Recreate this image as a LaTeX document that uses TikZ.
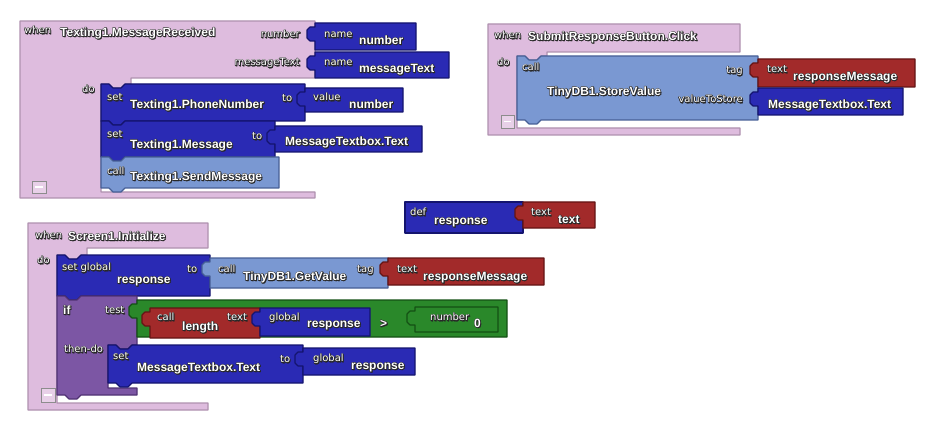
\documentclass[tikz,border=0pt]{standalone}
\usepackage{fontspec}
\setmainfont{Liberation Sans}
\newfontfamily\lblfont{DejaVu Sans}
\newfontfamily\nmshdfont{Liberation Sans Bold}[FakeBold=1.5]
\newfontfamily\lblshdfont{DejaVu Sans}[FakeBold=1.5]
\usepackage{xcolor}
\usepackage{tikz}

\definecolor{evtfill}{RGB}{222,188,222}
\definecolor{evtdraw}{RGB}{175,145,175}
\definecolor{setfill}{RGB}{42,42,180}
\definecolor{setdraw}{RGB}{20,20,110}
\definecolor{callfill}{RGB}{122,152,210}
\definecolor{calldraw}{RGB}{70,95,150}
\definecolor{txtfill}{RGB}{162,42,42}
\definecolor{txtdraw}{RGB}{100,20,20}
\definecolor{mathfill}{RGB}{42,136,42}
\definecolor{mathdraw}{RGB}{20,80,20}
\definecolor{ctlfill}{RGB}{124,86,164}
\definecolor{ctldraw}{RGB}{80,50,115}
\definecolor{shadowc}{RGB}{40,40,40}

% statement block: style, x1, y1, x2, y2 (notch on top, nub below)
\newcommand{\stmtblk}[5]{%
  \draw[#1] (#2,#3) -- ++(8,0) -- ++(4,4) -- ++(8,0) -- ++(4,-4) -- (#4,#3) -- (#4,#5)
    -- (#2+24,#5) -- ++(-4,4) -- ++(-8,0) -- ++(-4,-4) -- (#2,#5) -- cycle;}
% value block: style, x1, y1, x2, y2 (plug on the left)
\newcommand{\valblk}[5]{%
  \draw[#1] (#2,#3) -- (#4,#3) -- (#4,#5) -- (#2,#5) -- (#2,#3+18) -- ++(-5,0)
    -- ++(-3,-3) -- ++(0,-8) -- ++(3,-3) -- (#2,#3+4) -- cycle;}
% white text with a dark outline: shadow copies in font #1
\newcommand{\shdcopy}[4]{\makebox[0pt][l]{\kern#2pt\raisebox{#3pt}{#1\textcolor{shadowc}{#4}}}}
\newcommand{\outl}[2]{\shdcopy{#1}{-0.5}{0}{#2}\shdcopy{#1}{0.5}{0}{#2}\shdcopy{#1}{0}{0.5}{#2}%
  \shdcopy{#1}{0}{-0.5}{#2}\shdcopy{#1}{0.8}{-0.8}{#2}#2}
\newcommand{\nshd}[1]{\outl{\nmshdfont}{#1}}
\newcommand{\lshd}[1]{\outl{\lblshdfont}{#1}}

\begin{document}
\begin{tikzpicture}[
  x=1pt,
  y=-1pt,
  evtblk/.style={fill=evtfill, draw=evtdraw, line width=1.2pt, line join=round},
  setblk/.style={fill=setfill, draw=setdraw, line width=1.2pt, line join=round},
  callblk/.style={fill=callfill, draw=calldraw, line width=1.2pt, line join=round},
  txtblk/.style={fill=txtfill, draw=txtdraw, line width=1.2pt, line join=round},
  mathblk/.style={fill=mathfill, draw=mathdraw, line width=1.2pt, line join=round},
  ctlblk/.style={fill=ctlfill, draw=ctldraw, line width=1.2pt, line join=round},
  colbox/.style={fill=evtfill!70!white, draw=black!45, line width=0.8pt},
  nm/.style={font=\bfseries\fontsize{12}{14}\selectfont, text=white, inner sep=0pt,
    text height=9pt, text depth=2.5pt, anchor=west},
  lbl/.style={font=\lblfont\fontsize{10}{11}\selectfont, text=white, inner sep=0pt,
    text height=7pt, text depth=2pt, anchor=west}
]
\useasboundingbox (0,0) rectangle (935,425);

% ---- when Texting1.MessageReceived
\draw[evtblk] (20,21) -- (315,21) -- (315,78) -- (131,78) -- (131,84) -- (125,84)
  -- (121,88) -- (113,88) -- (109,84) -- (101,84) -- (101,192) -- (315,192)
  -- (315,198) -- (20,198) -- cycle;
\valblk{setblk}{315}{23}{416}{50}
\valblk{setblk}{315}{52}{449}{78}
\stmtblk{setblk}{101}{84}{305}{121}
\valblk{setblk}{305}{88}{403}{112}
\stmtblk{setblk}{101}{121}{275}{157}
\valblk{setblk}{275}{126}{422}{152}
\stmtblk{callblk}{101}{157}{279}{188}
\draw[colbox] (32,181) rectangle (46,193);
\draw[white, line width=1.2pt] (35,187) -- (43,187);

\node[lbl] (rcvwhen) at (24,31) {\lshd{when}};
\node[nm] (rcvevent) at (60,33) {\nshd{Texting1.MessageReceived}};
\node[lbl, anchor=east] (rcvnum) at (300,35) {\lshd{number}};
\node[lbl, anchor=east] (rcvmsg) at (300,63) {\lshd{messageText}};
\node[lbl] (nameonekey) at (324,35) {\lshd{name}};
\node[nm] (nameone) at (359,41) {\nshd{number}};
\node[lbl] (nametwokey) at (324,63) {\lshd{name}};
\node[nm] (nametwo) at (359,69) {\nshd{messageText}};
\node[lbl] (rcvdo) at (82,90) {\lshd{do}};
\node[lbl] (setphonekey) at (107,98) {\lshd{set}};
\node[nm] (setphone) at (130,105) {\nshd{Texting1.PhoneNumber}};
\node[lbl] (setphoneto) at (282,99) {\lshd{to}};
\node[lbl] (valnumkey) at (313,98) {\lshd{value}};
\node[nm] (valnum) at (349,105) {\nshd{number}};
\node[lbl] (setmsgkey) at (107,135) {\lshd{set}};
\node[nm] (setmsg) at (130,145) {\nshd{Texting1.Message}};
\node[lbl] (setmsgto) at (252,137) {\lshd{to}};
\node[nm] (msgboxone) at (285,142) {\nshd{MessageTextbox.Text}};
\node[lbl] (sendkey) at (107,172) {\lshd{call}};
\node[nm] (send) at (130,177) {\nshd{Texting1.SendMessage}};

% ---- when SubmitResponseButton.Click
\draw[evtblk] (488,24) -- (740,24) -- (740,52) -- (547,52) -- (547,56) -- (541,56)
  -- (537,60) -- (529,60) -- (525,56) -- (517,56) -- (517,128) -- (740,128)
  -- (740,135) -- (488,135) -- cycle;
\stmtblk{callblk}{517}{56}{758}{120}
\valblk{txtblk}{758}{59}{915}{87}
\valblk{setblk}{758}{88}{903}{115}
\draw[colbox] (501,115) rectangle (514,128);
\draw[white, line width=1.2pt] (504,121.5) -- (511,121.5);

\node[lbl] (clkwhen) at (494,36) {\lshd{when}};
\node[nm] (clkevent) at (528,37) {\nshd{SubmitResponseButton.Click}};
\node[lbl] (clkdo) at (497,63) {\lshd{do}};
\node[lbl] (storekey) at (522,68) {\lshd{call}};
\node[nm] (store) at (547,92) {\nshd{TinyDB1.StoreValue}};
\node[lbl, anchor=east] (storetag) at (743,71) {\lshd{tag}};
\node[lbl, anchor=east] (storeval) at (743,100) {\lshd{valueToStore}};
\node[lbl] (tagtxtkey) at (767,70) {\lshd{text}};
\node[nm] (tagtxt) at (793,77) {\nshd{responseMessage}};
\node[nm] (msgboxtwo) at (768,105) {\nshd{MessageTextbox.Text}};

% ---- def response
\draw[setblk] (405,202) rectangle (523,233);
\valblk{txtblk}{523}{202}{595}{228}
\node[lbl] (defkey) at (410,213) {\lshd{def}};
\node[nm] (defvar) at (434,221) {\nshd{response}};
\node[lbl] (deftxtkey) at (531,213) {\lshd{text}};
\node[nm] (deftxt) at (558,220) {\nshd{text}};

% ---- when Screen1.Initialize
\draw[evtblk] (28,223) -- (208,223) -- (208,248) -- (87,248) -- (87,255) -- (81,255)
  -- (77,259) -- (69,259) -- (65,255) -- (57,255) -- (57,403) -- (208,403)
  -- (208,410) -- (28,410) -- cycle;
\stmtblk{setblk}{57}{255}{210}{296}
\valblk{callblk}{210}{258}{388}{288}
\valblk{txtblk}{388}{258}{544}{285}
\draw[ctlblk] (57,296) -- (65,296) -- (69,300) -- (77,300) -- (81,296) -- (137,296)
  -- (137,345) -- (132,345) -- (128,349) -- (120,349) -- (116,345) -- (108,345)
  -- (108,388) -- (137,388) -- (137,395) -- (81,395) -- (77,399) -- (69,399)
  -- (65,395) -- (57,395) -- cycle;
\valblk{mathblk}{137}{300}{507}{337}
\valblk{txtblk}{150}{308}{260}{338}
\valblk{setblk}{260}{308}{370}{336}
\valblk{mathblk}{415}{307}{498}{332}
\stmtblk{setblk}{108}{345}{303}{383}
\valblk{setblk}{303}{348}{415}{375}
\draw[colbox] (41,388) rectangle (55,402);
\draw[white, line width=1.2pt] (44,395) -- (52,395);

\node[lbl] (iniwhen) at (35,236) {\lshd{when}};
\node[nm] (inievent) at (68,237) {\nshd{Screen1.Initialize}};
\node[lbl] (inido) at (37,261) {\lshd{do}};
\node[lbl] (setglbkey) at (62,268) {\lshd{set global}};
\node[nm] (setglb) at (117,280) {\nshd{response}};
\node[lbl] (setglbto) at (187,270) {\lshd{to}};
\node[lbl] (getkey) at (218,270) {\lshd{call}};
\node[nm] (get) at (243,277) {\nshd{TinyDB1.GetValue}};
\node[lbl] (gettag) at (357,270) {\lshd{tag}};
\node[lbl] (gettxtkey) at (397,270) {\lshd{text}};
\node[nm] (gettxt) at (423,277) {\nshd{responseMessage}};
\node[nm] (ifkey) at (63,311) {\nshd{if}};
\node[lbl] (iftest) at (105,311) {\lshd{test}};
\node[lbl] (lenkey) at (157,318) {\lshd{call}};
\node[nm] (len) at (182,327) {\nshd{length}};
\node[lbl] (lentxt) at (227,318) {\lshd{text}};
\node[lbl] (glbonekey) at (269,318) {\lshd{global}};
\node[nm] (glbone) at (307,324) {\nshd{response}};
\node[nm] (cmp) at (380,324) {\nshd{>}};
\node[lbl] (zerokey) at (430,318) {\lshd{number}};
\node[nm] (zero) at (474,324) {\nshd{0}};
\node[lbl] (ifthen) at (64,350) {\lshd{then-do}};
\node[lbl] (setboxkey) at (113,357) {\lshd{set}};
\node[nm] (setbox) at (137,368) {\nshd{MessageTextbox.Text}};
\node[lbl] (setboxto) at (280,360) {\lshd{to}};
\node[lbl] (glbtwokey) at (313,359) {\lshd{global}};
\node[nm] (glbtwo) at (351,366) {\nshd{response}};
\end{tikzpicture}
\end{document}
